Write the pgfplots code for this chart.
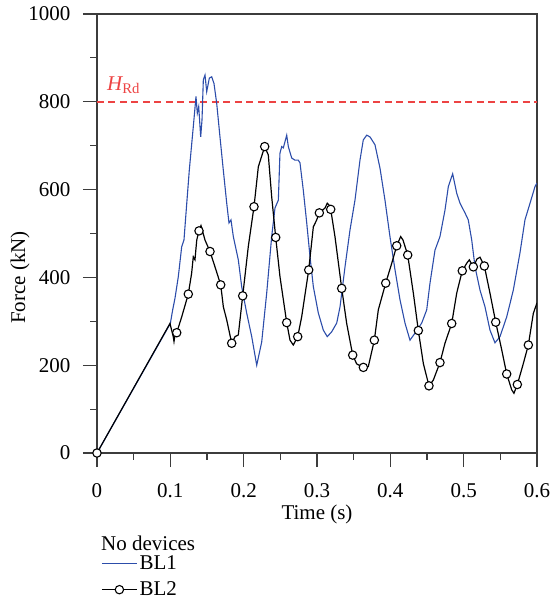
\documentclass[border=0pt]{standalone}
\usepackage{fontspec}
\setmainfont{Liberation Serif}
\usepackage{pgfplots}
\usepackage{pgfplotstable}
\pgfplotsset{compat=1.18}
\definecolor{blcblue}{RGB}{44,77,170}
\definecolor{hrdred}{RGB}{237,67,67}
\definecolor{axgray}{RGB}{60,60,60}

\pgfplotstableread{
t F
0 0
0.1000 295
0.1032 326
0.1064 353
0.1109 402
0.1155 470
0.1186 485
0.1214 547
0.1259 645
0.1313 743
0.1350 812
0.1368 774
0.1387 789
0.1414 720
0.1432 759
0.1450 850
0.1473 861
0.1496 823
0.1532 854
0.1564 857
0.1595 842
0.1632 797
0.1677 720
0.1722 645
0.1769 569
0.1800 524
0.1827 531
0.1859 493
0.1927 440
0.1973 379
0.2041 319
0.2110 265
0.2178 200
0.2246 253
0.2314 364
0.2382 493
0.2427 558
0.2473 576
0.2495 683
0.2519 698
0.2541 695
0.2587 724
0.2609 698
0.2655 672
0.2700 667
0.2745 667
0.2768 661
0.2813 599
0.2860 524
0.2905 447
0.2950 379
0.3018 319
0.3086 280
0.3140 265
0.3200 276
0.3269 296
0.3314 333
0.3382 424
0.3450 508
0.3518 576
0.3586 667
0.3631 713
0.3678 724
0.3723 720
0.3791 702
0.3859 649
0.3927 576
0.3995 493
0.4064 417
0.4132 349
0.4200 296
0.4268 257
0.4336 273
0.4428 296
0.4496 326
0.4541 387
0.4609 462
0.4677 493
0.4745 553
0.4791 607
0.4850 636
0.4905 592
0.4950 569
0.5018 547
0.5063 531
0.5110 485
0.5155 424
0.5223 371
0.5291 333
0.5359 280
0.5427 251
0.5495 265
0.5587 310
0.5677 371
0.5768 456
0.5836 531
0.5905 569
0.5973 607
0.6000 615
}\blone

\pgfplotstableread{
t F
0 0
0.0995 295
0.1040 265
0.1050 254
0.1064 269
0.1087 274
0.1155 310
0.1245 362
0.1291 410
0.1313 447
0.1336 440
0.1360 485
0.1391 506
0.1418 518
0.1473 485
0.1541 459
0.1609 424
0.1687 383
0.1723 333
0.1769 303
0.1837 250
0.1882 265
0.1927 269
0.1987 358
0.2063 470
0.2141 561
0.2200 652
0.2287 698
0.2336 679
0.2382 584
0.2437 491
0.2495 402
0.2587 297
0.2632 257
0.2677 246
0.2737 265
0.2791 310
0.2887 417
0.2950 515
0.2996 531
0.3032 547
0.3109 558
0.3140 569
0.3164 565
0.3187 555
0.3245 493
0.3337 375
0.3405 295
0.3487 223
0.3541 203
0.3632 195
0.3700 197
0.3782 257
0.3836 326
0.3937 387
0.4019 432
0.4087 472
0.4141 493
0.4173 485
0.4237 451
0.4314 364
0.4382 279
0.4450 204
0.4527 153
0.4586 166
0.4677 206
0.4745 250
0.4837 295
0.4905 364
0.4981 415
0.5041 432
0.5077 440
0.5132 424
0.5182 442
0.5223 446
0.5282 426
0.5359 364
0.5437 298
0.5519 235
0.5587 180
0.5655 144
0.5686 136
0.5732 156
0.5814 204
0.5882 246
0.5950 318
0.6000 342
}\bltwo

\pgfplotstableread{
t F
0 0
0.1087 274
0.1245 362
0.1391 506
0.1541 459
0.1687 383
0.1837 250
0.1987 358
0.2141 561
0.2287 698
0.2437 491
0.2587 297
0.2737 265
0.2887 417
0.3032 547
0.3187 555
0.3337 375
0.3487 223
0.3632 195
0.3782 257
0.3937 387
0.4087 472
0.4237 451
0.4382 279
0.4527 153
0.4677 206
0.4837 295
0.4981 415
0.5132 424
0.5282 426
0.5437 298
0.5587 180
0.5732 156
0.5882 246
}\bltwomarks

\begin{document}
\begin{tikzpicture}
\path[use as bounding box] (-97pt,-145pt) rectangle (453pt,453pt);
\begin{axis}[
  scale only axis,
  width=440pt, height=439pt,
  xmin=0, xmax=0.6, ymin=0, ymax=1000,
  xtick={0,0.1,0.2,0.3,0.4,0.5,0.6},
  ytick={0,200,400,600,800,1000},
  minor x tick num=1,
  minor y tick num=1,
  tick pos=left,
  tick align=outside,
  major tick length=14pt,
  minor tick length=6.5pt,
  every tick/.style={axgray, line width=1.1pt},
  axis line style={axgray, line width=1.1pt},
  font=\fontsize{21}{25}\selectfont,
  /pgf/number format/assume math mode=true,
  /pgf/number format/1000 sep={},
  xticklabel style={yshift=-13pt},
  yticklabel style={xshift=-9pt},
  xlabel={Time (s)},
  ylabel={Force (kN)},
  xlabel style={at={(axis description cs:0.5,-0.139)}, anchor=center},
  ylabel style={at={(axis description cs:-0.175,0.4)}, anchor=center},
  legend style={at={(axis description cs:0.0091,-0.2813)}, anchor=west,
    draw=none, fill=none, inner sep=0pt, row sep=7pt,
    font=\fontsize{21}{25}\selectfont},
  legend cell align=left,
]
\addplot[color=hrdred, line width=1.4pt, dash pattern=on 7pt off 4.5pt, forget plot] coordinates {(0,800) (0.6,800)};
\addplot[color=blcblue, line width=1.1pt, forget plot] table[x=t,y=F] {\blone};
\addplot[color=black, line width=1.2pt, forget plot] table[x=t,y=F] {\bltwo};
\addplot[only marks, mark=*, mark size=4.2pt, mark options={fill=white, draw=black, line width=1.1pt}, forget plot] table[x=t,y=F] {\bltwomarks};
\addlegendimage{legend image code/.code={\draw[draw=blcblue, line width=1.4pt] (0pt,0pt) -- (35pt,0pt);}}
\addlegendentry{BL1}
\addlegendimage{legend image code/.code={\draw[draw=black, line width=1.2pt] (0pt,0pt) -- (35pt,0pt); \draw[draw=black, fill=white, line width=1.1pt] (17.5pt,0pt) circle (4.2pt);}}
\addlegendentry{BL2}
\node[anchor=west, text=hrdred, inner sep=0pt] at (axis cs:0.0136,838) {\itshape H\textsubscript{\upshape Rd}};
\end{axis}
\node[anchor=base west, inner sep=0pt, font=\fontsize{21}{25}\selectfont] at (4pt,-97pt) {No devices};
\end{tikzpicture}
\end{document}
